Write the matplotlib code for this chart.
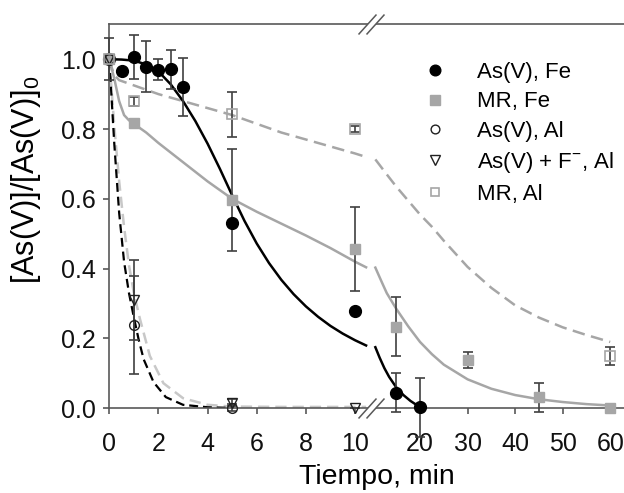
import numpy as np
import matplotlib
matplotlib.use("Agg")
import matplotlib.pyplot as plt
from matplotlib.path import Path

plt.rcParams['font.family'] = ['Liberation Sans', 'DejaVu Sans']
plt.rcParams['mathtext.fontset'] = 'custom'
plt.rcParams['mathtext.rm'] = 'Liberation Sans'
plt.rcParams['mathtext.it'] = 'Liberation Sans:italic'

# measured points (time in min, normalised concentration, error)
t_as_fe = [0, 0.5, 1, 1.5, 2, 2.5, 3, 5, 10, 15, 20]
y_as_fe = [1.0, 0.967, 1.006, 0.979, 0.970, 0.971, 0.921, 0.532, 0.279, 0.045, 0.003]
e_as_fe = [0.06, 0, 0.062, 0.074, 0.03, 0.055, 0.083, 0, 0, 0.055, 0.085]

t_mr_fe = [0, 1, 5, 10, 15, 30, 45, 60]
y_mr_fe = [1.0, 0.818, 0.597, 0.456, 0.234, 0.138, 0.031, 0.0]
e_mr_fe = [0, 0.01, 0.145, 0.12, 0.085, 0.023, 0.042, 0]

t_as_al = [0, 1, 5]
y_as_al = [1.0, 0.239, 0.002]
e_as_al = [0, 0.14, 0.01]

t_asf_al = [0, 1, 5, 10]
y_asf_al = [1.0, 0.31, 0.016, 0.0]
e_asf_al = [0, 0.115, 0.01, 0]

t_mr_al = [0, 1, 5, 10, 60]
y_mr_al = [1.0, 0.879, 0.842, 0.800, 0.150]
e_mr_al = [0, 0.012, 0.064, 0.008, 0.027]

# fitted curves (before / after the axis break)
fit_as_fe_t1 = [0, 0.5, 1, 1.5, 2, 2.5, 3, 3.5, 4, 4.5, 5, 5.5, 6, 6.5, 7, 7.5, 8, 8.5, 9, 9.5, 10, 10.45]
fit_as_fe_y1 = [1.0, 0.999, 0.996, 0.985, 0.965, 0.928, 0.880, 0.823, 0.758, 0.686, 0.610, 0.537,
                0.472, 0.416, 0.368, 0.327, 0.292, 0.262, 0.236, 0.214, 0.195, 0.180]
fit_as_fe_t2 = [10.6, 11.5, 12.5, 13.5, 15, 16.5, 18, 19, 20]
fit_as_fe_y2 = [0.175, 0.145, 0.115, 0.090, 0.060, 0.038, 0.021, 0.012, 0.004]

fit_mr_fe_t1 = [0, 0.2, 0.4, 0.6, 0.8, 1, 1.5, 2, 3, 4, 5, 6, 7, 8, 9, 10, 10.45]
fit_mr_fe_y1 = [1.0, 0.945, 0.88, 0.84, 0.825, 0.815, 0.79, 0.76, 0.705, 0.65, 0.60, 0.563, 0.529,
                0.495, 0.459, 0.42, 0.404]
fit_mr_fe_t2 = [10.6, 12, 13, 15, 17.5, 20, 22.5, 25, 30, 35, 40, 45, 50, 55, 60]
fit_mr_fe_y2 = [0.403, 0.36, 0.33, 0.285, 0.235, 0.19, 0.155, 0.125, 0.083, 0.056, 0.038, 0.026,
                0.018, 0.012, 0.008]

fit_as_al_t = [0, 0.1, 0.2, 0.4, 0.6, 0.8, 1.0, 1.2, 1.4, 1.8, 2.3, 3.0, 4.0, 5.0]
fit_as_al_y = [1.0, 0.88, 0.76, 0.56, 0.42, 0.33, 0.26, 0.195, 0.14, 0.075, 0.032, 0.01, 0.003, 0.001]

fit_asf_al_t = [0, 0.2, 0.4, 0.6, 0.8, 1.0, 1.25, 1.65, 2.2, 3.0, 4.0, 5.0, 7.0, 10.45]
fit_asf_al_y = [1.0, 0.81, 0.65, 0.52, 0.41, 0.33, 0.255, 0.15, 0.072, 0.029, 0.01, 0.005, 0.004, 0.004]

fit_mr_al_t1 = [0, 0.1, 0.2, 0.4, 1, 2, 3, 4, 5, 6, 7, 8, 9, 10, 10.45]
fit_mr_al_y1 = [1.0, 0.975, 0.955, 0.94, 0.925, 0.90, 0.88, 0.86, 0.84, 0.815, 0.79, 0.77, 0.75, 0.73, 0.72]
fit_mr_al_t2 = [10.6, 13, 15, 17.5, 20, 22.5, 25, 30, 35, 40, 45, 50, 55, 60]
fit_mr_al_y2 = [0.713, 0.67, 0.635, 0.595, 0.555, 0.52, 0.48, 0.405, 0.345, 0.295, 0.26, 0.232,
                0.21, 0.19]

xticks = [0, 2, 4, 6, 8, 10, 20, 30, 40, 50, 60]
yticks = [0.0, 0.2, 0.4, 0.6, 0.8, 1.0]

labels = ["As(V), Fe", "MR, Fe", "As(V), Al", "As(V) + F$^{-}$, Al", "MR, Al"]


# broken time axis: 0-10 min stretched, 10-60 min compressed
def fwd(t):
    t = np.asarray(t, dtype=float)
    return np.where(t <= 10.5, t,
                    np.where(t >= 10.6, 11.679 + (t - 15) * 0.1935,
                             10.5 + (t - 10.5) * 3.28))


def inv(u):
    u = np.asarray(u, dtype=float)
    return np.where(u <= 10.5, u,
                    np.where(u >= 10.828, 15 + (u - 11.679) / 0.1935,
                             10.5 + (u - 10.5) / 3.28))


GREY = '#a6a6a6'
LIGHT = '#c8c8c8'
AXC = '#595959'
ERRC = '#404040'

fig = plt.figure(figsize=(6.24, 4.93), dpi=100)
ax = fig.add_axes([0.1752, 0.1718, 0.8248, 0.7789])
ax.set_xscale('function', functions=(fwd, inv))

# fitted curves
ax.plot(fit_mr_al_t1, fit_mr_al_y1, color=GREY, lw=1.8, dashes=(5, 2.6), zorder=2)
ax.plot(fit_mr_al_t2, fit_mr_al_y2, color=GREY, lw=1.8, dashes=(5, 2.6), zorder=2)
ax.plot(fit_asf_al_t, fit_asf_al_y, color=LIGHT, lw=1.8, dashes=(4.5, 2.4), zorder=2)
ax.plot(fit_as_al_t, fit_as_al_y, color='black', lw=1.6, dashes=(4, 2.2), zorder=2)
ax.plot(fit_mr_fe_t1, fit_mr_fe_y1, color=GREY, lw=1.8, zorder=2)
ax.plot(fit_mr_fe_t2, fit_mr_fe_y2, color=GREY, lw=1.8, zorder=2)
ax.plot(fit_as_fe_t1, fit_as_fe_y1, color='black', lw=1.8, zorder=2)
ax.plot(fit_as_fe_t2, fit_as_fe_y2, color='black', lw=1.8, zorder=2)

# error bars
for tt, yy, ee in [(t_as_fe, y_as_fe, e_as_fe), (t_mr_fe, y_mr_fe, e_mr_fe),
                   (t_as_al, y_as_al, e_as_al), (t_asf_al, y_asf_al, e_asf_al),
                   (t_mr_al, y_mr_al, e_mr_al)]:
    eb = ax.errorbar(tt, yy, yerr=ee, fmt='none', ecolor=ERRC, elinewidth=1.2,
                     capsize=3.8, capthick=1.2, zorder=3)
    for part in eb.lines[1] + eb.lines[2]:
        part.set_clip_on(False)

# markers
ax.plot(t_as_fe, y_as_fe, 'o', ms=8.5, mfc='black', mec='black', ls='none',
        label=labels[0], zorder=4, clip_on=False)
ax.plot(t_mr_fe, y_mr_fe, 's', ms=7.5, mfc=GREY, mec=GREY, ls='none',
        label=labels[1], zorder=4, clip_on=False)
ax.plot(t_as_al, y_as_al, 'o', ms=7, mfc='none', mec='#202020', mew=1.0, ls='none',
        label=labels[2], zorder=4, clip_on=False)
ax.plot(t_asf_al, y_asf_al, 'v', ms=7.5, mfc='none', mec='#202020', mew=1.0, ls='none',
        label=labels[3], zorder=4, clip_on=False)
ax.plot(t_mr_al, y_mr_al, 's', ms=7, mfc='none', mec=GREY, mew=1.2, ls='none',
        label=labels[4], zorder=4, clip_on=False)

ax.set_xlim(0, 62.9)
ax.set_ylim(0, 1.1)
ax.set_xticks(xticks)
ax.set_xticklabels([str(v) for v in xticks])
ax.xaxis.set_minor_locator(plt.NullLocator())
ax.set_yticks(yticks)
ax.set_yticklabels(["%.1f" % v for v in yticks])

for side in ['left', 'top', 'bottom']:
    ax.spines[side].set_color(AXC)
    ax.spines[side].set_linewidth(1.2)
ax.spines['right'].set_visible(False)
ax.tick_params(axis='both', direction='out', length=4, width=1.2, color=AXC,
               labelsize=18, labelcolor='#111111')
ax.tick_params(axis='x', pad=13)
ax.tick_params(axis='y', pad=5.5)

ax.set_xlabel("Tiempo, min", fontsize=20.5)
ax.xaxis.set_label_coords(0.52, -0.145)
ax.set_ylabel("[As(V)]/[As(V)]$_0$", fontsize=22)
ax.yaxis.set_label_coords(-0.128, 0.595)

# axis break marks
gap = Path([(-5, -10), (-13, -10), (5, 10), (13, 10), (-5, -10)],
           [Path.MOVETO, Path.LINETO, Path.LINETO, Path.LINETO, Path.CLOSEPOLY])
slashes = Path([(-13, -10), (5, 10), (-5, -10), (13, 10)],
               [Path.MOVETO, Path.LINETO, Path.MOVETO, Path.LINETO])
brk = ax.get_xaxis_transform()
ax.plot([10.55, 10.55], [0, 1], transform=brk, marker=gap, ms=18.7, mfc='white',
        mec='white', mew=0, ls='none', clip_on=False, zorder=6)
ax.plot([10.55, 10.55], [0, 1], transform=brk, marker=slashes, ms=18.7, mfc='none',
        mec=AXC, mew=1.1, ls='none', clip_on=False, zorder=7)

ax.legend(loc='upper left', bbox_to_anchor=(0.611, 0.902), frameon=False, fontsize=16,
          handlelength=1.0, handletextpad=1.4, labelspacing=0.38, borderpad=0,
          borderaxespad=0, markerscale=0.9)

fig.savefig("out.png", dpi=100)
